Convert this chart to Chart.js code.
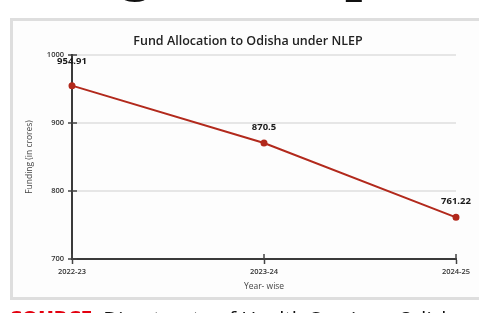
<!DOCTYPE html>
<html>
<head>
<meta charset="utf-8">
<script src="https://cdn.jsdelivr.net/npm/chart.js@4/dist/chart.umd.min.js"></script>
<style>
  html, body { margin: 0; padding: 0; background: #ffffff; }
  body { width: 479px; height: 313px; position: relative; overflow: hidden; }
  .head { position: absolute; top: -64px; font-family: "Liberation Serif", serif; font-weight: bold; font-size: 62px; line-height: 64px; color: #111; }
  #box { position: absolute; left: 10px; top: 18px; width: 490px; height: 276px; border: 3px solid #dedede; background: #fdfdfd; }
  #wrap { position: absolute; left: 0; top: 0; width: 479px; height: 313px; }
  #source { position: absolute; left: 10px; top: 306px; font-family: "Open Sans", sans-serif; font-size: 20.5px; line-height: 24px; white-space: nowrap; color: #111; }
  #source b { color: #e3000f; font-weight: 800; }
</style>
</head>
<body>
<div class="head" style="left:120px;">g</div>
<div class="head" style="left:345px;">p</div>
<div id="box"></div>
<div id="wrap"><canvas id="c" width="479" height="313"></canvas></div>
<div id="source"><b>SOURCE:</b> Directorate of Health Services, Odisha</div>
<script>
const chartTitle = "Fund Allocation to Odisha under NLEP";
const years = ["2022-23", "2023-24", "2024-25"];
const funding = [954.91, 870.5, 761.22];
const yTitle = "Funding (in crores)";
const xTitle = "Year- wise";
const yMin = 700, yMax = 1000, yStep = 100;

const titleDraw = {
  id: 'titleDraw',
  afterDraw(chart, args, opts) {
    const ctx = chart.ctx;
    ctx.save();
    ctx.font = opts.font;
    ctx.fillStyle = opts.color;
    ctx.textAlign = 'center';
    ctx.textBaseline = 'middle';
    ctx.fillText(opts.text, opts.x, opts.y);
    ctx.restore();
  }
};

const valueLabels = {
  id: 'valueLabels',
  afterDatasetsDraw(chart, args, opts) {
    const ctx = chart.ctx;
    const meta = chart.getDatasetMeta(0);
    ctx.save();
    ctx.font = opts.font;
    ctx.fillStyle = opts.color;
    ctx.textAlign = 'center';
    ctx.textBaseline = 'middle';
    meta.data.forEach((pt, i) => {
      const v = chart.data.datasets[0].data[i];
      ctx.fillText(String(v), pt.x, pt.y - opts.offsets[i]);
    });
    ctx.restore();
  }
};

const innerTicks = {
  id: 'innerTicks',
  afterDraw(chart) {
    const ctx = chart.ctx;
    const xs = chart.scales.x, ys = chart.scales.y;
    const area = chart.chartArea;
    ctx.save();
    ctx.strokeStyle = '#444';
    ctx.lineWidth = 1.5;
    ys.ticks.forEach((t, i) => {
      const y = ys.getPixelForTick(i);
      ctx.beginPath(); ctx.moveTo(area.left, y); ctx.lineTo(area.left + 5, y); ctx.stroke();
    });
    xs.ticks.forEach((t, i) => {
      const x = xs.getPixelForTick(i);
      ctx.beginPath(); ctx.moveTo(x, area.bottom); ctx.lineTo(x, area.bottom - 5); ctx.stroke();
    });
    ctx.restore();
  }
};

new Chart(document.getElementById('c'), {
  type: 'line',
  data: {
    labels: years,
    datasets: [{
      data: funding,
      borderColor: '#b2291c',
      backgroundColor: '#b2291c',
      borderWidth: 2,
      pointRadius: 2.5,
      pointHoverRadius: 2.5,
      tension: 0,
      fill: false
    }]
  },
  options: {
    responsive: false,
    animation: false,
    events: [],
    layout: { padding: { left: 0, right: 23, top: 55, bottom: 0 } },
    plugins: {
      legend: { display: false },
      tooltip: { enabled: false },
      title: { display: false },
      titleDraw: {
        text: chartTitle,
        font: '600 12.5px "Open Sans"',
        color: '#222',
        x: 248,
        y: 41
      },
      valueLabels: {
        font: 'bold 9.5px "Open Sans"',
        color: '#1a1a1a',
        offsets: [24, 16, 16]
      }
    },
    scales: {
      x: {
        type: 'category',
        offset: false,
        afterFit(scale) { scale.height = 54; },
        grid: { display: true, drawOnChartArea: false, drawTicks: true, tickLength: 5, tickColor: '#444', tickWidth: 1.5 },
        border: { display: true, color: '#3a3a3a', width: 2 },
        ticks: { color: '#333', padding: 3, maxRotation: 0, autoSkip: false, font: { family: 'Open Sans', size: 7.5, weight: '600' } },
        title: { display: true, text: xTitle, color: '#444', font: { family: 'Open Sans', size: 8.5 }, padding: { top: 0, bottom: 21 } }
      },
      y: {
        min: yMin,
        max: yMax,
        afterFit(scale) { scale.width = 72; },
        grid: { color: '#e6e6e6', lineWidth: 2, drawTicks: true, tickLength: 4, tickColor: '#444', tickWidth: 1.5 },
        border: { display: true, color: '#3a3a3a', width: 2 },
        ticks: { stepSize: yStep, color: '#333', padding: 4, font: { family: 'Open Sans', size: 7.5, weight: '600' }, callback: (v) => String(v) },
        title: { display: true, text: yTitle, color: '#444', font: { family: 'Open Sans', size: 8.5 }, padding: { top: 24, bottom: 0 } }
      }
    }
  },
  plugins: [titleDraw, valueLabels, innerTicks]
});
</script>
</body>
</html>
